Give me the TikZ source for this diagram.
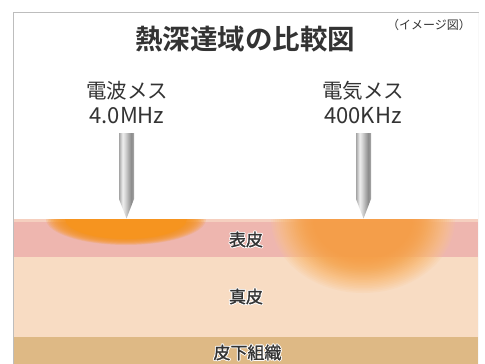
\documentclass[tikz,border=0pt]{standalone}
\usepackage{fontspec}
\setmainfont{Noto Sans CJK JP}
\newfontfamily\jpbold{Noto Sans CJK JP Bold}
\newfontfamily\jpmed[FakeBold=1.3]{Noto Sans CJK JP}

\definecolor{inkgray}{HTML}{333333}
\definecolor{framegray}{HTML}{BDBDBD}
\definecolor{bandtop}{HTML}{F5CFBF}
\definecolor{epidermis}{HTML}{EEB6AF}
\definecolor{dermis}{HTML}{F8DCC3}
\definecolor{subcutis}{HTML}{DEB985}
\definecolor{heatA}{HTML}{F7941E}
\definecolor{heatB}{HTML}{F59E45}
\definecolor{heatL}{HTML}{FCC68A}
\definecolor{needleA}{RGB}{165,165,165}
\definecolor{needleB}{RGB}{238,238,238}
\definecolor{needleC}{RGB}{215,215,215}
\definecolor{needleD}{RGB}{138,138,138}
\definecolor{needleE}{RGB}{170,170,170}

% metallic needle: light stripe left of centre, darker towards the right
\pgfdeclarehorizontalshading{needleshade}{100bp}{%
  color(0bp)=(needleA); color(25bp)=(needleA); color(37bp)=(needleB);
  color(45bp)=(needleC); color(66bp)=(needleD); color(75bp)=(needleE);
  color(100bp)=(needleE)}

% layer name with a thin white outline
\newcommand\halolabel[3]{%
  \foreach \a in {0,45,...,315}{%
    \node[layerlabel,text=white] at ([shift={(\a:0.9pt)}]#2) {#3};}
  \node[layerlabel] (#1) at (#2) {#3};}

\begin{document}
\begin{tikzpicture}[x=1pt,y=-1pt,
  title/.style={font=\jpbold\fontsize{27.5}{27.5}\selectfont,text=inkgray,inner sep=0pt},
  note/.style={font=\fontsize{12}{12}\selectfont,text=inkgray,inner sep=0pt},
  tool/.style={font=\fontsize{20.5}{20.5}\selectfont,text=inkgray,inner sep=0pt},
  freq/.style={font=\fontsize{22}{22}\selectfont,text=inkgray,inner sep=0pt},
  layerlabel/.style={font=\jpmed\fontsize{17}{17}\selectfont,text=inkgray,inner sep=0pt},
  needle/.style={shading=needleshade}]
\useasboundingbox (0,0) rectangle (485,364);
\fill[white] (0,0) rectangle (485,364);

% skin layers
\fill[bandtop]   (14,219) rectangle (478,222);
\fill[epidermis] (14,222) rectangle (478,257);
\fill[dermis]    (14,257) rectangle (478,337);
\fill[subcutis]  (14,337) rectangle (478,364);

% heated regions below the surface
\begin{scope}
  \clip (14,219) rectangle (478,364);
  % 4.0 MHz: shallow, concentrated
  \foreach \k in {0,...,11}{
    \pgfmathsetmacro\s{1-0.02*\k}
    \fill[heatA,opacity=0.17] (126,219) ellipse [x radius=80*\s, y radius=26*\s];
  }
  \fill[heatA,opacity=0.9] (126,219) ellipse [x radius=61, y radius=20];
  % 400 kHz: deep, diffuse
  \foreach \k in {0,...,21}{
    \pgfmathsetmacro\s{1-0.022*\k}
    \pgfmathtruncatemacro\p{min(100,\k*8)}
    \fill[heatB!\p!heatL,opacity=0.15] (363,219) ellipse [x radius=92*\s, y radius=74*\s];
  }
\end{scope}

% frame
\draw[framegray,line width=1.2pt] (13.5,364) -- (13.5,12.5) -- (478.8,12.5);
\draw[white!90!framegray,line width=1pt] (478.8,12.5) -- (478.8,364);

% needles
\shade[needle] (119,133) -- (134,133) -- (134,199) -- (126.5,218.5) -- (119,199) -- cycle;
\shade[needle] (356,133) -- (371,133) -- (371,199) -- (363.5,218.5) -- (356,199) -- cycle;

% texts
\node[title] (ttl) at (245,39) {熱深達域の比較図};
\node[note]  (img) at (429,25) {（イメージ図）};
\node[tool]  (rf)  at (127,91) {電波メス};
\node[freq]  (rfq) at (127,116) {4.0MHz};
\node[tool]  (es)  at (363,91) {電気メス};
\node[freq]  (esq) at (363,116) {400KHz};

\halolabel{epi}{246,239.5}{表皮}
\halolabel{der}{246,296.5}{真皮}
\halolabel{sub}{247.5,352.5}{皮下組織}
\end{tikzpicture}
\end{document}
